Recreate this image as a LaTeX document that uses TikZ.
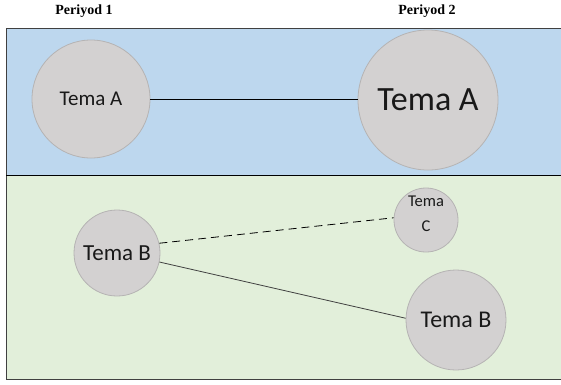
\documentclass[tikz,border=0pt]{standalone}
\usepackage{fontspec}
\setmainfont{Carlito}
\newfontfamily\headfont{Liberation Serif}
\definecolor{bandblue}{HTML}{BDD7EE}
\definecolor{bandgreen}{HTML}{E2EFDA}
\definecolor{topicfill}{HTML}{D3D1D1}
\definecolor{topicedge}{HTML}{B5B3B3}
\tikzset{
  topic/.style={circle, fill=topicfill, draw=topicedge, line width=0.8pt,
    minimum size=#1, inner sep=0pt, align=center, text=black!90},
  head/.style={font=\headfont\bfseries\fontsize{14}{16}\selectfont},
  link/.style={black, line width=0.8pt},
}
\begin{document}
\begin{tikzpicture}[x=1pt, y=-1pt]
  \useasboundingbox (0,0) rectangle (561,384);
  % period bands
  \fill[bandblue] (6,28) rectangle (562,175);
  \fill[bandgreen] (6,175) rectangle (562,379);
  \draw[black!75, line width=1pt] (562,28) -- (6,28) -- (6,379) -- (562,379);
  \draw[black, line width=0.8pt] (6,175) -- (562,175);
  % headings
  \node[head] (p1) at (84,11) {Periyod 1};
  \node[head] (p2) at (427,11) {Periyod 2};
  % topics
  \node[topic=118pt, font=\fontsize{21}{24}\selectfont] (a1) at (91,99) {Tema A};
  \node[topic=140pt, font=\fontsize{34}{38}\selectfont] (a2) at (428,100) {Tema A};
  \node[topic=86pt, font=\fontsize{23}{26}\selectfont] (b1) at (117,253) {Tema B};
  \node[topic=64pt] (c2) at (426,220) {};
  \node[align=center, inner sep=0pt, text=black!90, font=\fontsize{16.5}{25}\selectfont]
    (c2text) at (426,214) {Tema\\C};
  \node[topic=100pt, font=\fontsize{24}{28}\selectfont] (b2) at (456,320) {Tema B};
  % links between periods
  \draw[link] (a1.east) -- (a1.east -| a2.west);
  \draw[link, dashed, dash pattern=on 8pt off 5pt] (b1.13) -- (c2.176);
  \draw[link, black!75] (b1.-12) -- (b2.178);
\end{tikzpicture}
\end{document}
